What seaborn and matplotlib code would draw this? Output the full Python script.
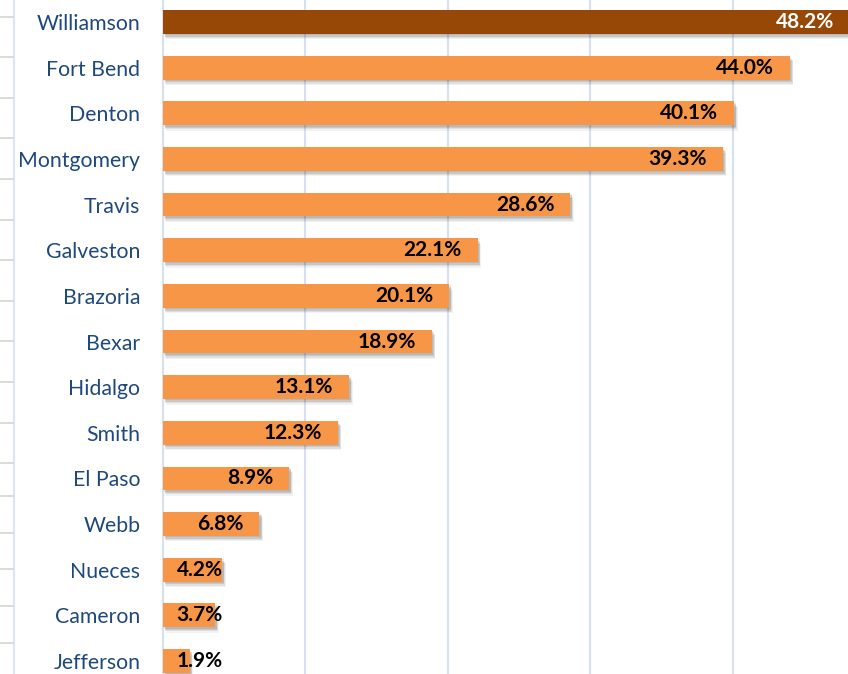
import matplotlib
matplotlib.use("Agg")
import matplotlib.pyplot as plt
import matplotlib.patheffects as pe
from matplotlib.lines import Line2D
import seaborn as sns
import pandas as pd

counties = ["Williamson", "Fort Bend", "Denton", "Montgomery", "Travis",
            "Galveston", "Brazoria", "Bexar", "Hidalgo", "Smith",
            "El Paso", "Webb", "Nueces", "Cameron", "Jefferson"]
growth = [48.2, 44.0, 40.1, 39.3, 28.6, 22.1, 20.1, 18.9, 13.1, 12.3,
          8.9, 6.8, 4.2, 3.7, 1.9]
highlight = "Williamson"

ORANGE = "#F79646"
BROWN = "#974706"
LABEL_BLUE = "#1F497D"
GRID_BLUE = "#D5E1F3"

sns.set_theme(style="white")
plt.rcParams["font.family"] = ["Lato", "DejaVu Sans"]

df = pd.DataFrame({"county": counties, "growth": growth})
palette = {c: (BROWN if c == highlight else ORANGE) for c in counties}

W, H = 848, 674
fig = plt.figure(figsize=(W / 100, H / 100), dpi=100)
x0 = 162.5
ax = fig.add_axes([x0 / W, 0, (W - x0) / W, 1])

sns.barplot(data=df, x="growth", y="county", hue="county", palette=palette,
            orient="h", width=0.52, legend=False, ax=ax, saturation=1)

# soft drop shadow under each bar
for bar in ax.patches:
    bar.set_linewidth(0)
    bar.set_path_effects([
        pe.SimplePatchShadow(offset=(2.5, -4), shadow_rgbFace="#000000", alpha=0.05),
        pe.SimplePatchShadow(offset=(2, -3), shadow_rgbFace="#000000", alpha=0.08),
        pe.SimplePatchShadow(offset=(1.5, -2), shadow_rgbFace="#000000", alpha=0.10),
        pe.SimplePatchShadow(offset=(1, -1), shadow_rgbFace="#000000", alpha=0.08),
        pe.Normal(),
    ])
    bar.set_zorder(3)

px_per_pct = 14.26
ax.set_xlim(0, (W - x0) / px_per_pct)
ax.set_ylim(14 + 13 / 45.64, -22 / 45.64)
ax.set_xticks([0, 10, 20, 30, 40])
ax.xaxis.grid(True, color=GRID_BLUE, linewidth=1.5)
ax.set_axisbelow(True)
ax.tick_params(axis="x", bottom=False, labelbottom=False)
ax.tick_params(axis="y", left=False, length=0, pad=16, labelsize=15.3,
               labelcolor=LABEL_BLUE)
ax.set_xlabel("")
ax.set_ylabel("")
for side in ["top", "right", "bottom"]:
    ax.spines[side].set_visible(False)
ax.spines["left"].set_color(GRID_BLUE)
ax.spines["left"].set_linewidth(1.5)

# value labels at the inside end of each bar
for i, (c, v) in enumerate(zip(counties, growth)):
    xr = max(v - 1.12, 4.24)
    ax.text(xr, i, f"{v:.1f}%", ha="right", va="center", fontsize=15,
            fontweight="bold", color="white" if c == highlight else "black",
            zorder=5)

# worksheet cell borders at the left edge
fig.add_artist(Line2D([14 / W, 14 / W], [0, 1], transform=fig.transFigure,
                      color="#DCE6F4", linewidth=1.5))
for yp in [16.7, 57.3, 98.3, 138.3, 179.3, 220, 260, 301, 341, 381.7,
           422.7, 463.3, 496, 532.7, 569.3, 606, 642.7]:
    fig.add_artist(Line2D([0, 13 / W], [1 - yp / H, 1 - yp / H],
                          transform=fig.transFigure, color="#D4D4D4",
                          linewidth=1.2))

fig.savefig("out.png", dpi=100)
